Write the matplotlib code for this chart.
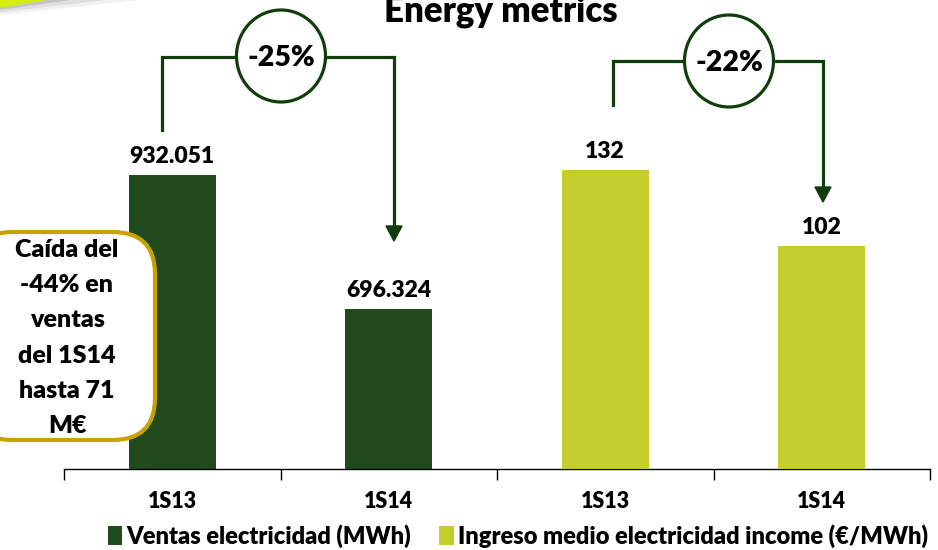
import matplotlib.pyplot as plt
from matplotlib.patches import Ellipse, FancyBboxPatch, Polygon
from matplotlib.lines import Line2D

# data
periods = ['1S13', '1S14', '1S13', '1S14']
ventas = [932051, 696324]          # MWh
ingreso = [132, 102]               # EUR/MWh
cambios = ['-25%', '-22%']
nota = ['Caída del', '-44% en', 'ventas', 'del 1S14', 'hasta 71', 'M€']
series = ['Ventas electricidad (MWh)', 'Ingreso medio electricidad income (€/MWh)']

DARK = '#214A1F'
LIME = '#C3CE2D'
LINE = '#103D0B'
GOLD = '#C9A100'
WT = 'heavy'

plt.rcParams['font.family'] = ['Lato', 'DejaVu Sans']
plt.rcParams['font.weight'] = WT

W, H = 938, 550
fig = plt.figure(figsize=(W / 100, H / 100), dpi=100)


def px(x, y):
    # pixel position (from top-left) -> figure fraction
    return x / W, 1 - y / H


# axes: left for MWh, twin for EUR/MWh
ax = fig.add_axes([64 / W, (H - 469) / H, 866 / W, 428 / H])
ax2 = ax.twinx()

xs = list(range(len(periods)))
b1 = ax.bar(xs[:2], ventas, width=0.4, color=DARK, label=series[0])
b2 = ax2.bar(xs[2:], ingreso, width=0.4, color=LIME, label=series[1])

ax.set_xlim(-0.5, 3.5)
ax.set_ylim(414900, 1167800)
ax2.set_ylim(14.0, 182.9)

for a in (ax, ax2):
    for s in ('top', 'left', 'right'):
        a.spines[s].set_visible(False)
    a.set_yticks([])
ax2.spines['bottom'].set_visible(False)
ax.spines['bottom'].set_color('#000000')
ax.spines['bottom'].set_linewidth(1.0)

ax.set_xticks(xs)
ax.set_xticklabels(periods, fontsize=15.5, fontweight=WT)
ax.set_xticks([-0.5, 0.5, 1.5, 2.5, 3.5], minor=True)
ax.tick_params(axis='x', which='major', length=0, pad=16)
ax.tick_params(axis='x', which='minor', length=8, width=1.0, direction='out')

# value labels
for rect, v in zip(b1, ventas):
    ax.annotate(f'{v:,}'.replace(',', '.'), (rect.get_x() + rect.get_width() / 2, v),
                xytext=(0, 6), textcoords='offset points', ha='center', va='bottom',
                fontsize=16.5, fontweight=WT)
for rect, v in zip(b2, ingreso):
    ax2.annotate(f'{v}', (rect.get_x() + rect.get_width() / 2, v),
                 xytext=(0, 6), textcoords='offset points', ha='center', va='bottom',
                 fontsize=16.5, fontweight=WT)

# title (partly cut at the top, as in the slide)
fig.text(*px(501, 22), 'Energy metrics', ha='center', va='baseline',
         fontsize=25, fontweight=WT)

# brackets with arrows
brackets = [
    # left x, left bottom y, top y, right x, arrow tip y, circle centre
    (162, 130, 57, 394, 241, (281, 56)),
    (613, 105, 61, 823, 202, (729, 61)),
]
for (xl, yl, yt, xr, ytip, cc), txt in zip(brackets, cambios):
    xx, yy = zip(*[px(xl, yl), px(xl, yt), px(xr, yt), px(xr, ytip - 14)])
    fig.add_artist(Line2D(xx, yy, color=LINE, lw=2.3, solid_joinstyle='miter',
                          transform=fig.transFigure, zorder=3))
    tip = Polygon([px(xr - 8, ytip - 15), px(xr + 8, ytip - 15), px(xr, ytip)],
                  closed=True, color=LINE, transform=fig.transFigure, zorder=3)
    fig.add_artist(tip)
    circ = Ellipse(px(*cc), 89 / W, 92 / H, facecolor='white', edgecolor=LINE,
                   lw=2.3, transform=fig.transFigure, zorder=4)
    fig.add_artist(circ)
    fig.text(*px(cc[0], cc[1] + 2), txt, ha='center', va='center',
             fontsize=20.5, fontweight=WT, zorder=5)

# note box
box = FancyBboxPatch(px(-30, 440), (155 + 30) / W, (440 - 232) / H,
                     boxstyle='round,pad=0,rounding_size=0.045',
                     facecolor='white', edgecolor=GOLD, lw=3,
                     transform=fig.transFigure, mutation_aspect=W / H, zorder=4)
fig.add_artist(box)
for i, line in enumerate(nota):
    fig.text(*px(67, 257 + i * 35.2), line, ha='center', va='baseline',
             fontsize=18, fontweight=WT, zorder=5)

# slide decoration in the top-left corner
for k, (c, a) in enumerate([('#D8D8D8', 0.35), ('#C8C8C8', 0.45), ('#B5B5B5', 0.6)]):
    fig.add_artist(Polygon([px(0, 6), px(44, 0), px(140 - k * 35, 0),
                            px(0, 15 - k * 2.5)], closed=True, color=c, alpha=a,
                           lw=0, transform=fig.transFigure))
fig.add_artist(Polygon([px(0, 0), px(46, 0), px(0, 8)], closed=True,
                       color='#D4EE10', lw=0, transform=fig.transFigure))

# legend
handles = [b1, b2]
fig.legend(handles, series, loc='center', bbox_to_anchor=px(518, 536), ncol=2,
           frameon=False, handlelength=0.6, handleheight=0.9,
           handletextpad=0.2, columnspacing=1.2, borderaxespad=0,
           prop={'weight': WT, 'size': 17})

fig.savefig('out.png', dpi=100)
